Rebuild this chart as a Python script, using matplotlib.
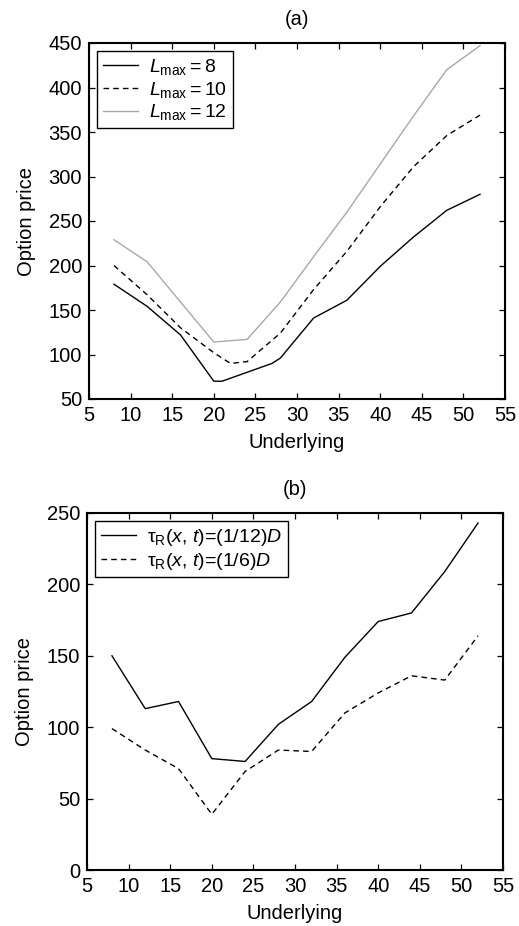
import numpy as np
import matplotlib
matplotlib.use("Agg")
from matplotlib import pyplot as plt

plt.rcParams['font.family'] = ['Liberation Sans', 'DejaVu Sans']
plt.rcParams['mathtext.fontset'] = 'custom'
plt.rcParams['mathtext.rm'] = 'Liberation Sans'
plt.rcParams['mathtext.it'] = 'Liberation Sans:italic'
plt.rcParams['font.size'] = 14.5

# panel (a): option price for different L_max
xa_8 = [8, 12, 16, 20, 21, 24, 27, 28, 32, 36, 40, 44, 48, 52]
ya_8 = [179, 154, 122, 70, 70, 80, 90, 96, 141, 161, 199, 232, 262, 280]
xa_10 = [8, 12, 16, 20, 22, 24, 28, 32, 36, 40, 44, 48, 52]
ya_10 = [200, 167, 130, 102, 90, 92, 124, 173, 216, 266, 311, 346, 369]
xa_12 = [8, 12, 16, 20, 24, 28, 32, 36, 40, 44, 48, 52]
ya_12 = [229, 204, 159, 114, 117, 159, 210, 260, 314, 368, 420, 447]

# panel (b): option price for different relaxation times
xb = [8, 12, 16, 20, 24, 28, 32, 36, 40, 44, 48, 52]
yb_12 = [150, 113, 118, 78, 76, 102, 118, 149, 174, 180, 209, 243]
yb_6 = [99, 84, 71, 39, 69, 84, 83, 110, 124, 136, 133, 164]

fig = plt.figure(figsize=(5.19, 9.26), dpi=100)
ax1 = fig.add_axes([89/519, 1-399/926, 416/519, 356/926])
ax2 = fig.add_axes([87/519, 1-870/926, 416/519, 357/926])

ax1.plot(xa_8, ya_8, color='black', lw=1, label=r'$L_{\rm max} = 8$')
ax1.plot(xa_10, ya_10, color='black', lw=1, ls=(0, (4, 3)), label=r'$L_{\rm max} = 10$')
ax1.plot(xa_12, ya_12, color='#a8a8a8', lw=1, label=r'$L_{\rm max} = 12$')
ax1.set_ylim(50, 450)
ax1.set_yticks(np.arange(50, 451, 50))
ax1.set_title('(a)', fontsize=14.5, pad=13)

ax2.plot(xb, yb_12, color='black', lw=1, label='τ$_{\\rm R}$($x$, $t$)=(1/12)$D$')
ax2.plot(xb, yb_6, color='black', lw=1, ls=(0, (4, 3)), label='τ$_{\\rm R}$($x$, $t$)=(1/6)$D$')
ax2.set_ylim(0, 250)
ax2.set_yticks(np.arange(0, 251, 50))
ax2.set_title('(b)', fontsize=14.5, pad=13)

for ax in (ax1, ax2):
    ax.set_xlim(5, 55)
    ax.set_xticks(np.arange(5, 56, 5))
    ax.tick_params(direction='in', top=True, right=True, length=4, width=0.9,
                   labelsize=14.5, pad=5)
    for s in ax.spines.values():
        s.set_linewidth(1.5)
    ax.set_xlabel('Underlying', fontsize=14.5, labelpad=6)
    ax.set_ylabel('Option price', fontsize=14.5, labelpad=9)
    leg = ax.legend(loc='upper left', fancybox=False, framealpha=1, edgecolor='black',
                    fontsize=14, handlelength=1.8, handletextpad=0.6, labelspacing=0.15,
                    borderpad=0.3, borderaxespad=0.4)
    leg.get_frame().set_linewidth(1.0)

fig.savefig('out.png', dpi=100)
